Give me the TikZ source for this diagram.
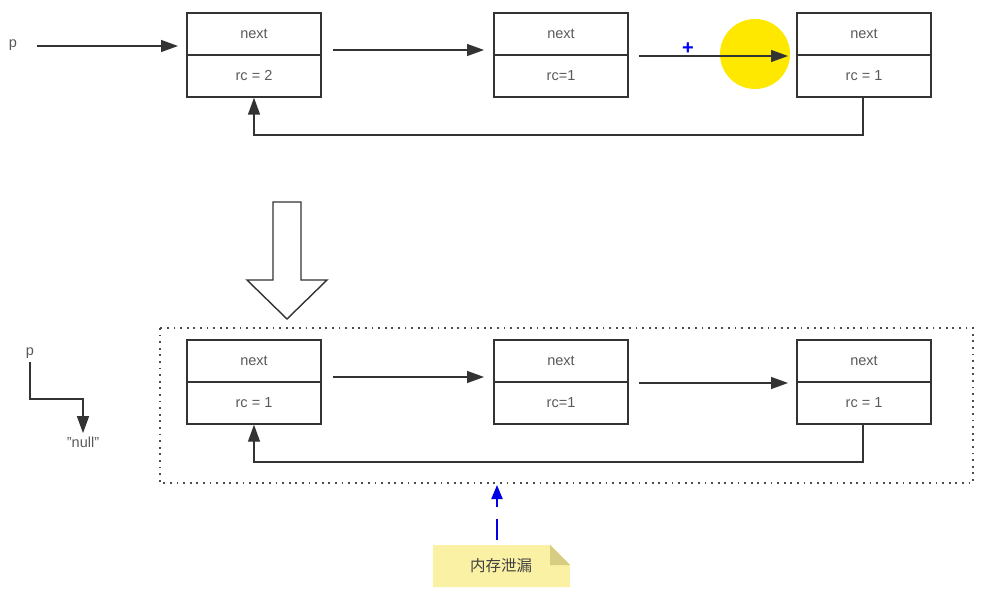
\documentclass[tikz,border=0pt]{standalone}
\usepackage{fontspec}
\setmainfont{Liberation Sans}
\newfontfamily\cjk{Noto Sans CJK SC}
\usetikzlibrary{arrows.meta,calc}
\definecolor{noteY}{RGB}{250,241,165}
\definecolor{noteF}{RGB}{214,205,130}
\definecolor{hiY}{RGB}{255,232,0}
\begin{document}
\begin{tikzpicture}[x=1pt,y=-1pt,
  cell/.style={draw=black!80,line width=1.4pt,minimum width=134pt,minimum height=42pt,inner sep=0pt,font=\fontsize{14.5}{16}\selectfont,text=black!65},
  link/.style={draw=black!80,line width=1.4pt,-{Triangle[length=17pt,width=12pt]}},
  lbl/.style={font=\fontsize{14.5}{16}\selectfont,text=black!65}]
\useasboundingbox (0,0) rectangle (981,601);
% top row
\node[cell] (a1n) at (254,34) {next};
\node[cell] (a1r) at (254,76) {rc = 2};
\node[cell] (a2n) at (561,34) {next};
\node[cell] (a2r) at (561,76) {rc=1};
\fill[hiY] (755,54) circle (35);
\node[cell] (a3n) at (864,34) {next};
\node[cell] (a3r) at (864,76) {rc = 1};
\node[lbl] (p1) at (13,45) {p};
\coordinate (p1s) at (37,46);
\coordinate (p1e) at (178,46);
\draw[link] (p1s) -- (p1e);
\coordinate (e1s) at (333,50);
\coordinate (e1e) at (484,50);
\draw[link] (e1s) -- (e1e);
\coordinate (e2s) at (639,56);
\coordinate (e2e) at (788,56);
\draw[link] (e2s) -- (e2e);
\node[text=blue,font=\bfseries\fontsize{20}{20}\selectfont,inner sep=0pt] (plus) at (688,49) {+};
\coordinate (f1) at (863,135);
\coordinate (f2) at (254,135);
\draw[link] ($(a3r.south)+(-1,0)$) -- (f1) -- (f2) -- (a1r.south);
% big down arrow
\draw[black!80,line width=1.4pt,fill=white] (273,202) -- (301,202) -- (301,280) -- (327,280) -- (287,319) -- (247,280) -- (273,280) -- cycle;
% bottom
\draw[black!70,line width=1.8pt,dash pattern=on 1.8pt off 4.8pt] (160,328) rectangle (973,483);
\node[cell] (b1n) at (254,361) {next};
\node[cell] (b1r) at (254,403) {rc = 1};
\node[cell] (b2n) at (561,361) {next};
\node[cell] (b2r) at (561,403) {rc=1};
\node[cell] (b3n) at (864,361) {next};
\node[cell] (b3r) at (864,403) {rc = 1};
\coordinate (g1s) at (333,377);
\coordinate (g1e) at (484,377);
\draw[link] (g1s) -- (g1e);
\coordinate (g2s) at (639,383);
\coordinate (g2e) at (788,383);
\draw[link] (g2s) -- (g2e);
\coordinate (h1) at (863,462);
\coordinate (h2) at (254,462);
\draw[link] ($(b3r.south)+(-1,0)$) -- (h1) -- (h2) -- (b1r.south);
% p -> null
\node[lbl] (p2) at (30,353) {p};
\node[lbl] (nul) at (83,442) {"null"};
\coordinate (q1) at (30,399);
\coordinate (q2) at (83,399);
\draw[link] (p2.south) -- (q1) -- (q2) -- (nul.north);
% note
\fill[noteY] (433,545) -- (550,545) -- (570,565) -- (570,587) -- (433,587) -- cycle;
\fill[noteF] (550,545) -- (570,565) -- (550,565) -- cycle;
\node[font=\cjk\fontsize{15.5}{17}\selectfont,text=black!75] (note) at (501,566) {内存泄漏};
\coordinate (nt) at (497,485);
\draw[blue!90!black,line width=2pt,dash pattern=on 21pt off 12pt,-{Triangle[length=14pt,width=11pt]}] (497,540) -- (nt);
\end{tikzpicture}
\end{document}
